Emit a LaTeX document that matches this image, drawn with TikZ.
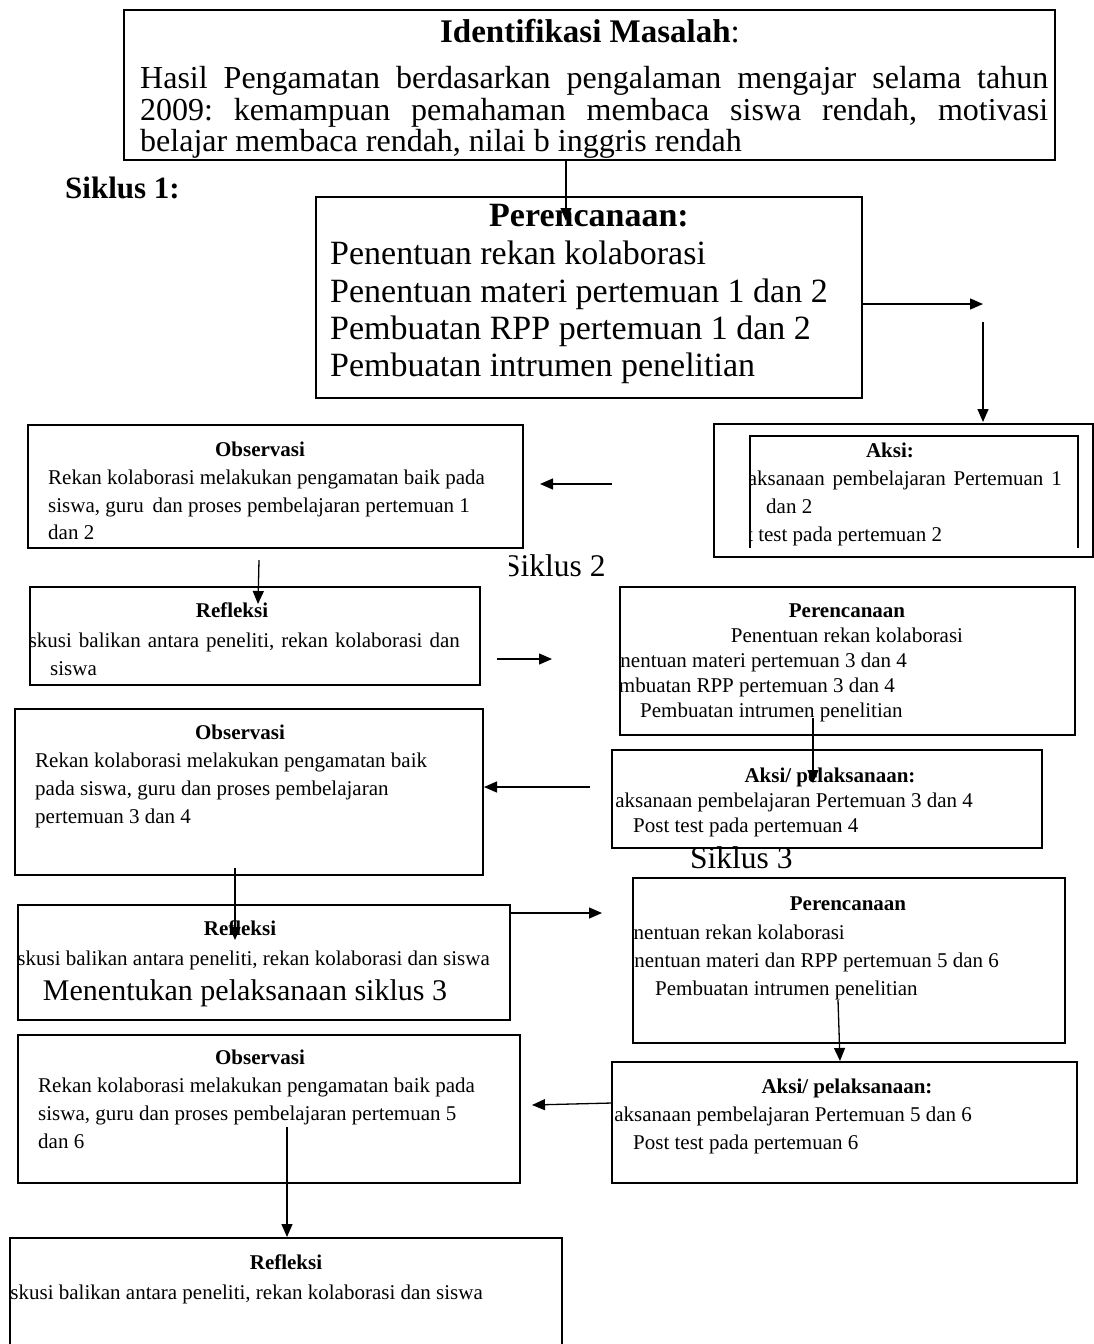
\documentclass[tikz,border=0pt]{standalone}
\usepackage{fontspec}
\setmainfont{Liberation Serif}
\usetikzlibrary{arrows.meta,fit}
\frenchspacing
\begin{document}
\begin{tikzpicture}[x=1pt,y=-1pt,
  box/.style={draw, line width=1.6pt, inner sep=0pt, outer sep=0pt},
  sm/.style={inner sep=0pt, font=\fontsize{21}{25}\selectfont},
  smb/.style={inner sep=0pt, font=\fontsize{21}{25}\selectfont\bfseries, anchor=base},
  big/.style={inner sep=0pt, font=\fontsize{34}{38}\selectfont},
  arr/.style={line width=1.3pt, -{Triangle[length=13pt,width=11pt]}}]
\useasboundingbox (0,0) rectangle (1094,1344);
% ---------- boxes ----------
\node[box, fit={(124,10) (1055,160)}] (hdr) {};
\node[box, fit={(316,197) (862,398)}] (per1) {};
\node[box, fit={(714,424) (1093,557)}] (aksi1) {};
\coordinate (ain1) at (750,548);
\coordinate (ain2) at (1078,436);
\draw[line width=1.6pt] (ain1) -- (ain1 |- ain2) -- (ain2) -- (ain2 |- ain1);
\node[box, fit={(28,425) (523,548)}] (obs1) {};
\node[box, fit={(30,587) (480,685)}] (ref1) {};
\node[box, fit={(620,587) (1075,735)}] (per2) {};
\node[box, fit={(612,750) (1042,848)}] (aksi2) {};
\node[box, fit={(15,709) (483,875)}] (obs2) {};
\node[box, fit={(18,905) (510,1020)}] (ref2) {};
\node[box, fit={(633,878) (1065,1043)}] (per3) {};
\node[box, fit={(612,1062) (1077,1183)}] (aksi3) {};
\node[box, fit={(18,1035) (520,1183)}] (obs3) {};
\coordinate (r3a) at (10,1238);
\coordinate (r3b) at (562,1344);
\draw[line width=1.6pt] (r3a |- r3b) -- (r3a) -- (r3b |- r3a) -- (r3b);
% ---------- header ----------
\node[inner sep=0pt, anchor=base, font=\fontsize{33}{36}\selectfont] (hdrt) at (590,42) {\textbf{Identifikasi Masalah}:};
\node[inner sep=0pt, anchor=base west, font=\fontsize{32}{34}\selectfont] (hdr1) at (140,88) {\makebox[908pt][s]{Hasil Pengamatan berdasarkan pengalaman mengajar selama tahun}};
\node[inner sep=0pt, anchor=base west, font=\fontsize{32}{34}\selectfont] (hdr2) at (140,120) {\makebox[908pt][s]{2009: kemampuan pemahaman membaca siswa rendah, motivasi}};
\node[inner sep=0pt, anchor=base west, font=\fontsize{32}{34}\selectfont] (hdr3) at (140,151) {belajar membaca rendah, nilai b inggris rendah};
\node[inner sep=0pt, anchor=base west, font=\fontsize{31}{34}\selectfont\bfseries] (sik1) at (65,198) {Siklus 1:};
% ---------- perencanaan 1 ----------
\node[big, anchor=base, font=\fontsize{34}{38}\selectfont\bfseries] (per1t) at (589,226) {Perencanaan:};
\node[big, anchor=base west] (per1a) at (330,264) {Penentuan rekan kolaborasi};
\node[big, anchor=base west] (per1b) at (330,302) {Penentuan materi pertemuan 1 dan 2};
\node[big, anchor=base west] (per1c) at (330,339) {Pembuatan RPP pertemuan 1 dan 2};
\node[big, anchor=base west] (per1d) at (330,376) {Pembuatan intrumen penelitian};
% ---------- aksi 1 ----------
\begin{scope}
\clip (ain1) rectangle (ain2);
\node[smb] (aksi1t) at (890,457) {Aksi:};
\node[sm, anchor=base east] (aksi1a) at (1062,485) {\makebox[314pt][s]{aksanaan pembelajaran Pertemuan 1}};
\node[sm, anchor=base west] (aksi1b) at (766,513) {dan 2};
\node[sm, anchor=base west] (aksi1c) at (747,541) {t test pada pertemuan 2};
\end{scope}
% ---------- observasi 1 ----------
\node[smb] (obs1t) at (260,456) {Observasi};
\node[sm, anchor=base west] (obs1a) at (48,484) {Rekan kolaborasi melakukan pengamatan baik pada};
\node[sm, anchor=base west] (obs1b) at (48,512) {siswa, guru\, dan proses pembelajaran pertemuan 1};
\node[sm, anchor=base west] (obs1c) at (48,539) {dan 2};
% ---------- siklus 2 ----------
\begin{scope}
\clip (509,540) rectangle (640,590);
\node[inner sep=0pt, anchor=base west, font=\fontsize{31.5}{34}\selectfont] (sik2) at (503,576) {Siklus 2};
\end{scope}
% ---------- refleksi 1 ----------
\begin{scope}
\clip (ref1.north west) rectangle (ref1.south east);
\node[smb] (ref1t) at (232,617) {Refleksi};
\node[sm, anchor=base east] (ref1a) at (460,647) {\makebox[431pt][s]{skusi balikan antara peneliti, rekan kolaborasi dan}};
\node[sm, anchor=base west] (ref1b) at (50,675) {siswa};
\end{scope}
% ---------- perencanaan 2 ----------
\begin{scope}
\clip (per2.north west) rectangle (per2.south east);
\node[smb] (per2t) at (847,617) {Perencanaan};
\node[sm, anchor=base] (per2a) at (847,642) {Penentuan rekan kolaborasi};
\node[sm, anchor=base east] (per2b) at (907,667) {nentuan materi pertemuan 3 dan 4};
\node[sm, anchor=base east] (per2c) at (895,692) {mbuatan RPP pertemuan 3 dan 4};
\node[sm, anchor=base west] (per2d) at (640,717) {Pembuatan intrumen penelitian};
\end{scope}
% ---------- aksi 2 ----------
\begin{scope}
\clip (aksi2.north west) rectangle (aksi2.south east);
\node[smb] (aksi2t) at (830,782) {Aksi/ pelaksanaan:};
\node[sm, anchor=base east] (aksi2a) at (973,807) {aksanaan pembelajaran Pertemuan 3 dan 4};
\node[sm, anchor=base west] (aksi2b) at (633,832) {Post test pada pertemuan 4};
\end{scope}
% ---------- observasi 2 ----------
\node[smb] (obs2t) at (240,739) {Observasi};
\node[sm, anchor=base west] (obs2a) at (35,767) {Rekan kolaborasi melakukan pengamatan baik};
\node[sm, anchor=base west] (obs2b) at (35,795) {pada siswa, guru dan proses pembelajaran};
\node[sm, anchor=base west] (obs2c) at (35,823) {pertemuan 3 dan 4};
% ---------- refleksi 2 ----------
\begin{scope}
\clip (ref2.north west) rectangle (ref2.south east);
\node[smb] (ref2t) at (240,935) {Refleksi};
\node[sm, anchor=base east] (ref2a) at (490,965) {skusi balikan antara peneliti, rekan kolaborasi dan siswa};
\node[inner sep=0pt, anchor=base, font=\fontsize{30}{34}\selectfont] (ref2b) at (245,1000) {Menentukan pelaksanaan siklus 3};
\end{scope}
% ---------- siklus 3 ----------
\node[inner sep=0pt, anchor=base west, font=\fontsize{31.5}{34}\selectfont] (sik3) at (690,868) {Siklus 3};
% ---------- perencanaan 3 ----------
\begin{scope}
\clip (per3.north west) rectangle (per3.south east);
\node[smb] (per3t) at (848,910) {Perencanaan};
\node[sm, anchor=base east] (per3a) at (845,939) {nentuan rekan kolaborasi};
\node[sm, anchor=base east] (per3b) at (999,967) {nentuan materi dan RPP pertemuan 5 dan 6};
\node[sm, anchor=base west] (per3c) at (655,995) {Pembuatan intrumen penelitian};
\end{scope}
% ---------- aksi 3 ----------
\begin{scope}
\clip (aksi3.north west) rectangle (aksi3.south east);
\node[smb] (aksi3t) at (847,1093) {Aksi/ pelaksanaan:};
\node[sm, anchor=base east] (aksi3a) at (972,1121) {aksanaan pembelajaran Pertemuan 5 dan 6};
\node[sm, anchor=base west] (aksi3b) at (633,1149) {Post test pada pertemuan 6};
\end{scope}
% ---------- observasi 3 ----------
\node[smb] (obs3t) at (260,1064) {Observasi};
\node[sm, anchor=base west] (obs3a) at (38,1092) {Rekan kolaborasi melakukan pengamatan baik pada};
\node[sm, anchor=base west] (obs3b) at (38,1120) {siswa, guru dan proses pembelajaran pertemuan 5};
\node[sm, anchor=base west] (obs3c) at (38,1148) {dan 6};
% ---------- refleksi 3 ----------
\begin{scope}
\clip (r3a) rectangle (r3b);
\node[smb] (ref3t) at (286,1269) {Refleksi};
\node[sm, anchor=base east] (ref3a) at (483,1299) {skusi balikan antara peneliti, rekan kolaborasi dan siswa};
\end{scope}
% ---------- connectors ----------
\coordinate (c1s) at (566,160); \coordinate (c1e) at (566,221);
\draw[arr] (c1s) -- (c1e);
\coordinate (c2s) at (862,304); \coordinate (c2e) at (983,304);
\draw[arr] (c2s) -- (c2e);
\coordinate (c3s) at (983,322); \coordinate (c3e) at (983,422);
\draw[arr] (c3s) -- (c3e);
\coordinate (c4s) at (612,484); \coordinate (c4e) at (540,484);
\draw[arr] (c4s) -- (c4e);
\coordinate (c5s) at (259,560); \coordinate (c5e) at (258,604);
\draw[arr] (c5s) -- (c5e);
\coordinate (c6s) at (497,659); \coordinate (c6e) at (552,659);
\draw[arr] (c6s) -- (c6e);
\coordinate (c7s) at (813,718); \coordinate (c7e) at (813,783);
\draw[arr] (c7s) -- (c7e);
\coordinate (c8s) at (590,787); \coordinate (c8e) at (484,787);
\draw[arr] (c8s) -- (c8e);
\coordinate (c9s) at (235,868); \coordinate (c9e) at (235,940);
\draw[arr] (c9s) -- (c9e);
\coordinate (c10s) at (510,913); \coordinate (c10e) at (602,913);
\draw[arr] (c10s) -- (c10e);
\coordinate (c11s) at (838,1000); \coordinate (c11e) at (840,1061);
\draw[arr] (c11s) -- (c11e);
\coordinate (c12s) at (612,1103); \coordinate (c12e) at (532,1105);
\draw[arr] (c12s) -- (c12e);
\coordinate (c13s) at (287,1127); \coordinate (c13e) at (287,1237);
\draw[arr] (c13s) -- (c13e);
\end{tikzpicture}
\end{document}
